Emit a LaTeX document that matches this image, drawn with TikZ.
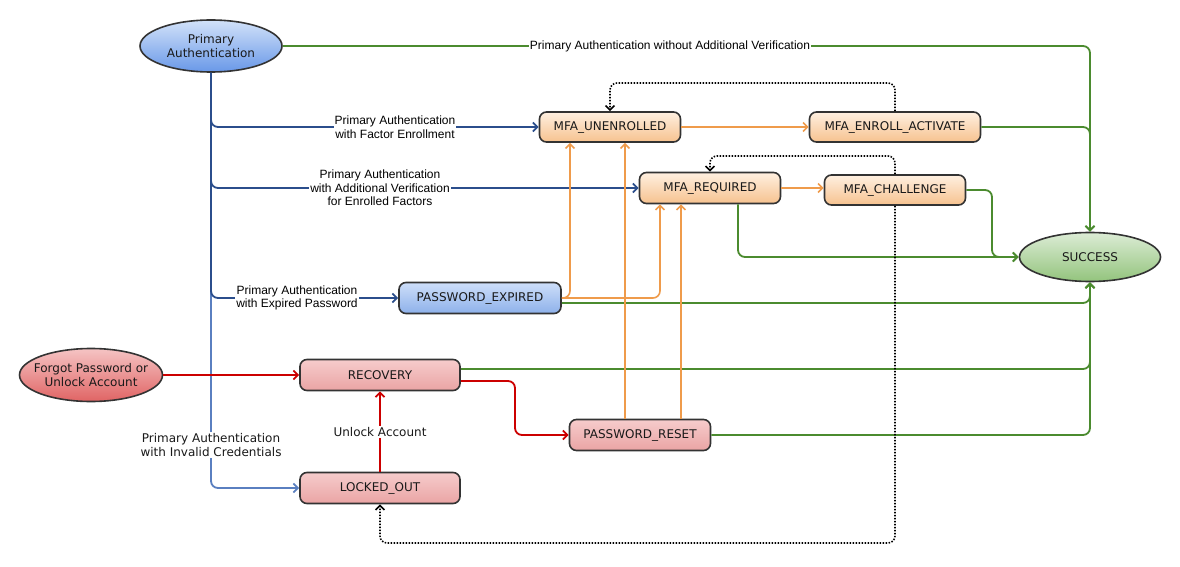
\documentclass[tikz,border=0pt]{standalone}
\usepackage{fontspec}
\setmainfont{DejaVu Sans}
\newfontfamily\arialfont{Liberation Sans}
\usetikzlibrary{shapes.geometric,arrows.meta,calc}

\definecolor{blueline}{HTML}{2B4E8C}
\definecolor{bluelight}{HTML}{5A7FC0}
\definecolor{greenline}{HTML}{4B8B2F}
\definecolor{orangeline}{HTML}{EF9B4B}
\definecolor{redline}{HTML}{CC0000}
\definecolor{edge}{HTML}{333333}

\tikzset{
  basefont/.style={font=\fontsize{12}{14}\selectfont},
  box/.style={basefont, draw=edge, line width=1.6pt, rounded corners=7pt,
    minimum height=30pt, inner sep=0pt, text=black!90},
  oval/.style={basefont, ellipse, draw=edge, line width=1.6pt, inner sep=0pt,
    align=center, text=black!90},
  mfabox/.style={box, top color=orange!12, bottom color={rgb,255:red,246;green,194;blue,143}},
  bluebox/.style={box, top color={rgb,255:red,205;green,222;blue,249}, bottom color={rgb,255:red,142;green,177;blue,234}},
  redbox/.style={box, top color={rgb,255:red,246;green,204;blue,204}, bottom color={rgb,255:red,234;green,164;blue,164}},
  tip/.style={-{Straight Barb[length=4.5pt,width=9pt]}},
  link/.style={tip, line width=1.8pt, rounded corners=7pt},
  bluel/.style={link, draw=blueline},
  bluel2/.style={link, draw=bluelight},
  greenl/.style={link, draw=greenline},
  orl/.style={link, draw=orangeline, line width=1.6pt},
  redl/.style={link, draw=redline},
  dotl/.style={link, draw=black, line width=1.6pt, dash pattern=on 1.5pt off 1.5pt},
  alabel/.style={fill=white, inner sep=1pt, align=center,
    font=\arialfont\fontsize{12}{13.5}\selectfont},
  dlabel/.style={fill=white, inner sep=1pt, align=center, basefont, text=black!90},
}

\begin{document}
\begin{tikzpicture}[x=1pt,y=-1pt]
\useasboundingbox[fill=white] (0,0) rectangle (1180,567);

% start and end states
\node[oval, minimum width=142pt, minimum height=52pt, inner xsep=-10pt,
  top color={rgb,255:red,210;green,226;blue,249}, bottom color={rgb,255:red,105;green,152;blue,232}]
  (pa) at (211,46) {Primary\\Authentication};
\node[oval, minimum width=143pt, minimum height=53pt, inner xsep=-14pt, inner ysep=-4pt,
  top color={rgb,255:red,245;green,196;blue,196}, bottom color={rgb,255:red,224;green,100;blue,100}]
  (forgot) at (91,375) {Forgot Password or\\Unlock Account};
\node[oval, minimum width=141pt, minimum height=49pt,
  top color={rgb,255:red,220;green,236;blue,213}, bottom color={rgb,255:red,147;green,196;blue,125}]
  (succ) at (1090,257) {SUCCESS};

% intermediate states
\node[mfabox, minimum width=141pt] (unen) at (610,127) {MFA\_UNENROLLED};
\node[mfabox, minimum width=171pt] (act) at (895,127) {MFA\_ENROLL\_ACTIVATE};
\node[mfabox, minimum width=141pt, minimum height=31pt] (req) at (710,188) {MFA\_REQUIRED};
\node[mfabox, minimum width=141pt] (chal) at (895,190) {MFA\_CHALLENGE};
\node[bluebox, minimum width=162pt, minimum height=31pt] (pexp) at (480,298) {PASSWORD\_EXPIRED};
\node[redbox, minimum width=160pt, minimum height=31pt] (rec) at (380,375) {RECOVERY};
\node[redbox, minimum width=160pt, minimum height=31pt] (locked) at (380,488) {LOCKED\_OUT};
\node[redbox, minimum width=141pt, minimum height=31pt] (reset) at (640,435) {PASSWORD\_RESET};

% primary authentication branches
\draw[bluel2] (pa.south) |- (locked.west);
\draw[bluel] (pa.south) |- (unen.west);
\draw[bluel] (pa.south) |- (req.west);
\draw[bluel] (pa.south) |- (pexp.west);

% transitions to success
\draw[greenl] (pa.east) -| (succ.north);
\draw[greenl] (act.east) -| (succ.north);
\draw[greenl] (chal.east) -| (992,257) -- (succ.west);
\draw[greenl] (738,0 |- req.south) |- (succ.west);
\draw[greenl] ([yshift=-5pt]pexp.east) -| (succ.south);
\draw[greenl] ([yshift=6pt]rec.east) -| (succ.south);
\draw[greenl] (reset.east) -| (succ.south);

% factor transitions
\draw[orl] (unen.east) -- (act.west);
\draw[orl] (req.east) -- (req.east -| chal.west);
\draw[orl] (pexp.east) -| (570,0 |- unen.south);
\draw[orl] (pexp.east) -| (660,0 |- req.south);
\draw[orl] (625,0 |- reset.north) -- (625,0 |- unen.south);
\draw[orl] (681,0 |- reset.north) -- (681,0 |- req.south);

% recovery transitions
\draw[redl] (forgot.east) -- (rec.west);
\draw[redl] (locked.north) -- (rec.south);
\draw[redl] ([yshift=-6pt]rec.east) -| (515,435) -- (reset.west);

% loops back
\draw[dotl] (act.north) -- (895,83) -| (unen.north);
\draw[dotl] (chal.north) -- (895,156) -| (req.north);
\draw[dotl] (chal.south) -- (895,543) -| (locked.south);

% connector labels
\node[alabel] (l1) at (670,46) {Primary Authentication without Additional Verification};
\node[alabel] (l2) at (395,127) {Primary Authentication\\with Factor Enrollment};
\node[alabel] (l3) at (380,188) {Primary Authentication\\with Additional Verification\\for Enrolled Factors};
\node[alabel] (l4) at (297,298) {Primary Authentication\\with Expired Password};
\node[dlabel] (l5) at (211,445) {Primary Authentication\\with Invalid Credentials};
\node[dlabel] (l6) at (380,432) {Unlock Account};
\end{tikzpicture}
\end{document}
